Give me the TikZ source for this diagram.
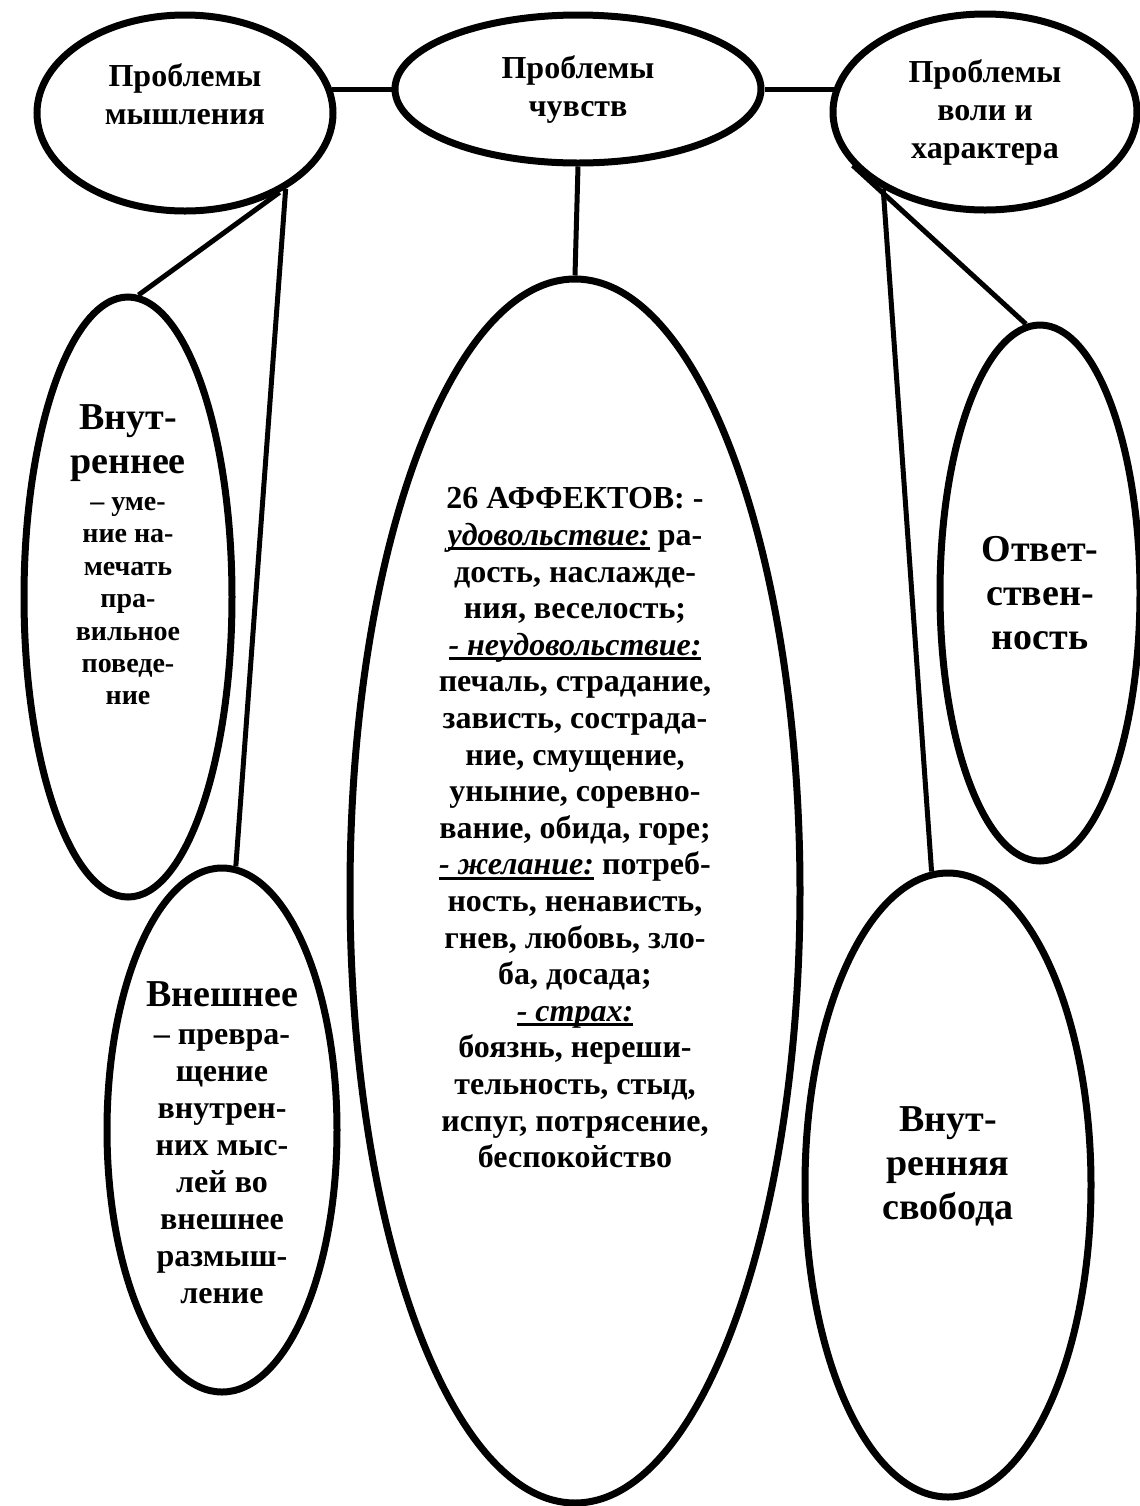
\documentclass[tikz,border=0pt]{standalone}
\usepackage{fontspec}
\setmainfont{Liberation Serif}
\usetikzlibrary{shapes.geometric}
\newsavebox{\affbox}
\newcommand{\bigword}[1]{{\fontsize{19}{22}\selectfont #1}}
\newcommand{\affkind}[1]{\sbox{\affbox}{\textit{#1}}\rlap{\rule[-2.4pt]{\wd\affbox}{1.5pt}}\usebox{\affbox}}

\begin{document}
\begin{tikzpicture}[
		x=0.5pt, y=-0.5pt,
		oval/.style={draw, ellipse, line width=3.5pt, inner sep=0pt, align=center},
		head/.style={font=\fontsize{16}{19}\selectfont\bfseries},
		body/.style={font=\fontsize{14}{16.2}\selectfont\bfseries},
		large/.style={font=\fontsize{19}{22}\selectfont\bfseries},
		link/.style={line width=2.5pt}
	]
	\useasboundingbox (0,0) rectangle (1140,1506);
	\fill[white] (0,0) rectangle (1140,1506);

	\node[oval, head, minimum width=148pt, minimum height=98pt] (mysl) at (185,113) {Проблемы\\мышления\\\mbox{}};
	\node[oval, head, minimum width=183pt, minimum height=74pt] (chuv) at (578,89) {Проблемы\\чувств};
	\node[oval, head, minimum width=152pt, minimum height=98pt] (volya) at (985,112) {Проблемы\\воли и\\характера};

	\node[oval, body, minimum width=104pt, minimum height=300pt] (inn) at (128,597)
		{\bigword{Внут-}\\[5.5pt]\bigword{реннее}\\[2.5pt]– уме-\\ние на-\\мечать\\пра-\\вильное\\поведе-\\ние\\[26pt]\mbox{}};
	\node[oval, body, font=\fontsize{16}{18.5}\selectfont\bfseries, minimum width=115pt, minimum height=262pt] (ext) at (222,1130)
		{\mbox{}\\[7pt]\bigword{Внешнее}\\[0.5pt]– превра-\\щение\\внутрен-\\них мыс-\\лей во\\внешнее\\размыш-\\ление};

	\node[oval, font=\fontsize{16}{18.3}\selectfont\bfseries, minimum width=225pt, minimum height=612pt] (aff) at (575,891)
		{26 АФФЕКТОВ: -\\
		\affkind{удовольствие:} ра-\\
		дость, наслажде-\\
		ния, веселость;\\
		\affkind{- неудовольствие:}\\
		печаль, страдание,\\
		зависть, сострада-\\
		ние, смущение,\\
		уныние, соревно-\\
		вание, обида, горе;\\
		\affkind{- желание:} потреб-\\
		ность, ненависть,\\
		гнев, любовь, зло-\\
		ба, досада;\\
		\affkind{- страх:}\\
		боязнь, нереши-\\
		тельность, стыд,\\
		испуг, потрясение,\\
		беспокойство\\[45pt]\mbox{}};

	\node[oval, large, minimum width=100pt, minimum height=268pt] (otv) at (1040,593) {Ответ-\\ствен-\\ность};
	\node[oval, large, minimum width=143pt, minimum height=312pt] (svob) at (948,1185) {Внут-\\ренняя\\свобода\\\mbox{}};

	\draw[link] (chuv.west) -- (chuv.west -| mysl.10);
	\draw[link] (chuv.east) -- (chuv.east -| volya.170);
	\draw[link] (chuv.south) -- (aff.north);
	\draw[link] (mysl.-40) -- (inn.88);
	\draw[link] (mysl.-37) -- (ext.87);
	\draw[link] (volya.-158) -- (otv.93);
	\draw[link] (volya.-143) -- (svob.93);
\end{tikzpicture}
\end{document}
